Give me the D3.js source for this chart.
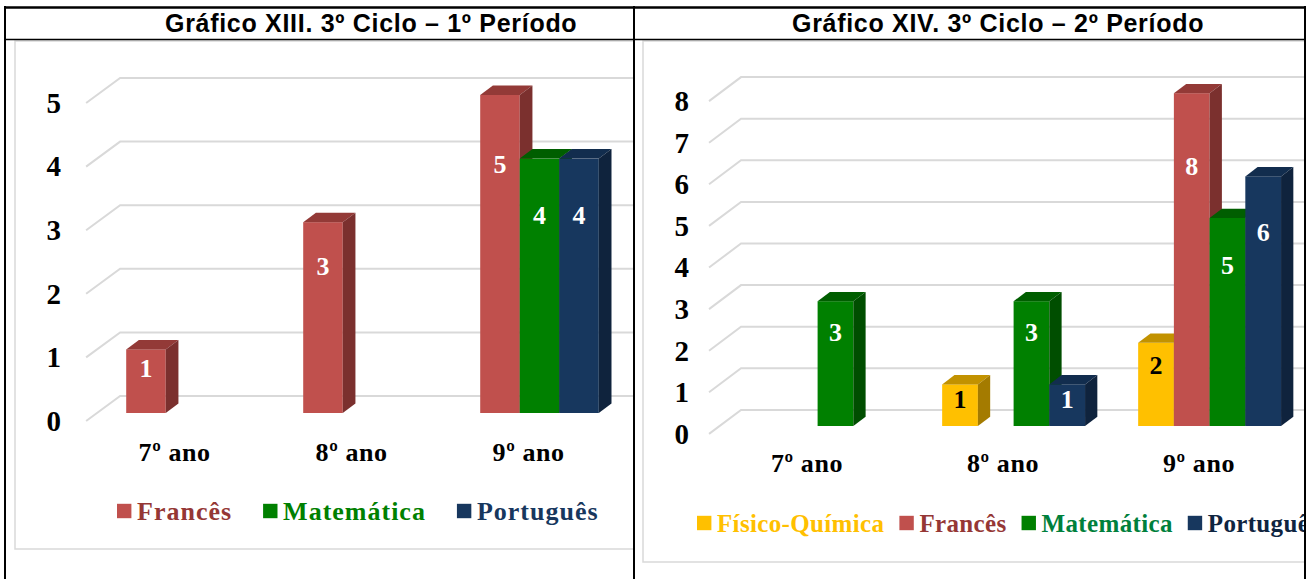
<!DOCTYPE html>
<html>
<head>
<meta charset="utf-8">
<script src="https://cdn.jsdelivr.net/npm/d3@7/dist/d3.min.js"></script>
<style>
  body { margin: 0; background: #fff; }
  svg { display: block; }
</style>
</head>
<body>
<div id="chart"></div>
<script>
// ---- data ----
const categories = ["7º ano", "8º ano", "9º ano"];

const series1 = ["Francês", "Matemática", "Português"];
const frances1 = [1, 3, 5];
const matematica1 = [null, null, 4];
const portugues1 = [null, null, 4];
const ticks1 = [0, 1, 2, 3, 4, 5];
const title1 = "Gráfico XIII. 3º Ciclo – 1º Período";

const series2 = ["Físico-Química", "Francês", "Matemática", "Português"];
const fisicoQuimica2 = [null, 1, 2];
const frances2 = [null, null, 8];
const matematica2 = [3, 3, 5];
const portugues2 = [null, 1, 6];
const ticks2 = [0, 1, 2, 3, 4, 5, 6, 7, 8];
const title2 = "Gráfico XIV. 3º Ciclo – 2º Período";

// ---- styles ----
const COLORS = {
    "Físico-Química": { front: "#ffc000", top: "#c29200", side: "#a47b00", legend: "#ffc000", label: "#000" },
    "Francês": { front: "#c0504d", top: "#933a37", side: "#7b302e", legend: "#953735", label: "#fff" },
    "Matemática": { front: "#008000", top: "#005e00", side: "#004e00", legend: "#008000", label: "#fff" },
    "Português": { front: "#17375e", top: "#122d4e", side: "#0f233d", legend: "#17375e", label: "#fff" },
};
const SERIF = "'Liberation Serif', 'Times New Roman', serif";
const SANS = "'Liberation Sans', Arial, sans-serif";
const GRID = "#d9d9d9";

const width = 1307;
const height = 579;

const svg = d3.select("#chart").append("svg")
    .attr("width", width)
    .attr("height", height)
    .attr("viewBox", `0 0 ${width} ${height}`);

// one chart per table cell
const charts = [
    {
        title: title1, titleX: 165,
        series: series1, values: [frances1, matematica1, portugues1], ticks: ticks1,
        cell: [5, 634], box: { x: 15, bottom: 549 },
        xRange: [97, 628], paddingInner: 0.33,
        y0: 413, yTop: 95,
        wall: { dx: 34, dy: -25 }, frac: 0.32, bar: { dx: 12.7, dy: -9.5 },
        tickX: 61, catY: 452,
        legend: { x: 117, y: 511, gap: 31, size: 26, spacing: 1, colors: {} },
    },
    {
        title: title2, titleX: 792,
        series: series2, values: [fisicoQuimica2, frances2, matematica2, portugues2], ticks: ticks2,
        cell: [634, 1305], box: { x: 643, bottom: 562 },
        xRange: [719.6, 1307.6], paddingInner: 0.271,
        y0: 426, yTop: 93.2,
        wall: { dx: 32, dy: -24 }, frac: 0.33, bar: { dx: 12.3, dy: -9.3 },
        tickX: 689, catY: 463,
        legend: { x: 697, y: 523, gap: 15, size: 25, spacing: 0.35, colors: { "Matemática": "#00803c", "Português": "#0f2541" } },
    },
];

charts.forEach((c, ci) => {
    const clipId = `clip${ci}`;
    svg.append("clipPath").attr("id", clipId)
        .append("rect")
        .attr("x", c.cell[0] + 1).attr("y", 40)
        .attr("width", c.cell[1] - c.cell[0] - 2).attr("height", height - 40);

    const g = svg.append("g").attr("clip-path", `url(#${clipId})`);

    // chart frame
    g.append("rect")
        .attr("x", c.box.x).attr("y", 41)
        .attr("width", 800).attr("height", c.box.bottom - 41)
        .attr("fill", "#fff")
        .attr("stroke", GRID)
        .attr("stroke-width", 1.5);

    const x = d3.scaleBand()
        .domain(categories)
        .range(c.xRange)
        .paddingInner(c.paddingInner)
        .paddingOuter(c.paddingInner / 2);

    const xSeries = d3.scaleBand().domain(c.series).range([0, x.bandwidth()]);

    const y = d3.scaleLinear()
        .domain([0, d3.max(c.ticks)])
        .range([c.y0, c.yTop]);

    // offsets from the bar plane to the front and back of the floor
    const front = { dx: -c.frac * c.wall.dx, dy: -c.frac * c.wall.dy };
    const back = { dx: (1 - c.frac) * c.wall.dx, dy: (1 - c.frac) * c.wall.dy };
    const x0 = c.xRange[0];

    // gridlines: diagonal on the side wall then flat along the back wall
    g.append("g").selectAll("path").data(c.ticks).join("path")
        .attr("d", (t) => {
            const p = d3.path();
            p.moveTo(x0 + front.dx, y(t) + front.dy);
            p.lineTo(x0 + back.dx, y(t) + back.dy);
            p.lineTo(width, y(t) + back.dy);
            return p.toString();
        })
        .attr("fill", "none")
        .attr("stroke", GRID)
        .attr("stroke-width", 2);

    // tick labels
    g.append("g").selectAll("text").data(c.ticks).join("text")
        .attr("x", c.tickX)
        .attr("y", (t) => y(t) + front.dy)
        .attr("dy", "0.34em")
        .attr("text-anchor", "end")
        .attr("font-family", SERIF)
        .attr("font-weight", "bold")
        .attr("font-size", 29)
        .attr("fill", "#000")
        .text((t) => t);

    // bars
    const bars = [];
    categories.forEach((cat, k) => {
        c.series.forEach((s, i) => {
            const v = c.values[i][k];
            if (v == null) return;
            bars.push({ cat, s, v });
        });
    });

    const w = xSeries.bandwidth();
    const bd = c.bar;
    const barG = g.append("g").selectAll("g").data(bars).join("g");

    barG.append("rect")
        .attr("x", (d) => x(d.cat) + xSeries(d.s))
        .attr("y", (d) => y(d.v))
        .attr("width", w)
        .attr("height", (d) => y(0) - y(d.v))
        .attr("fill", (d) => COLORS[d.s].front);

    barG.append("path")
        .attr("d", (d) => {
            const bx = x(d.cat) + xSeries(d.s);
            const yt = y(d.v);
            return `M${bx},${yt}L${bx + bd.dx},${yt + bd.dy}L${bx + w + bd.dx},${yt + bd.dy}L${bx + w},${yt}Z`;
        })
        .attr("fill", (d) => COLORS[d.s].top);

    barG.append("path")
        .attr("d", (d) => {
            const bx = x(d.cat) + xSeries(d.s) + w;
            const yt = y(d.v);
            return `M${bx},${yt}L${bx + bd.dx},${yt + bd.dy}L${bx + bd.dx},${y(0) + bd.dy}L${bx},${y(0)}Z`;
        })
        .attr("fill", (d) => COLORS[d.s].side);

    // value labels
    barG.append("text")
        .attr("x", (d) => x(d.cat) + xSeries(d.s) + w / 2)
        .attr("y", (d) => y(d.v * 0.8) + 6)
        .attr("dy", "0.34em")
        .attr("text-anchor", "middle")
        .attr("font-family", SERIF)
        .attr("font-weight", "bold")
        .attr("font-size", 26)
        .attr("fill", (d) => COLORS[d.s].label)
        .text((d) => d.v);

    // category labels sit at the front edge of the floor
    g.append("g").selectAll("text").data(categories).join("text")
        .attr("x", (d) => x(d) + x.bandwidth() / 2 + front.dx)
        .attr("y", c.catY)
        .attr("dy", "0.34em")
        .attr("text-anchor", "middle")
        .attr("font-family", SERIF)
        .attr("font-weight", "bold")
        .attr("font-size", 26)
        .attr("letter-spacing", 0.6)
        .attr("fill", "#000")
        .text((d) => d);

    // legend
    const L = c.legend;
    const legend = g.append("g");
    let lx = L.x;
    c.series.forEach((s) => {
        legend.append("rect")
            .attr("x", lx).attr("y", L.y - 7.2)
            .attr("width", 14.4).attr("height", 14.4)
            .attr("fill", COLORS[s].front);
        const t = legend.append("text")
            .attr("x", lx + 20)
            .attr("y", L.y)
            .attr("dy", "0.34em")
            .attr("font-family", SERIF)
            .attr("font-weight", "bold")
            .attr("font-size", L.size)
            .attr("letter-spacing", L.spacing)
            .attr("fill", L.colors[s] || COLORS[s].legend)
            .text(s);
        lx += 20 + t.node().getComputedTextLength() + L.gap;
    });

    // header title
    svg.append("text")
        .attr("x", c.titleX)
        .attr("y", 31.5)
        .attr("font-family", SANS)
        .attr("font-weight", "bold")
        .attr("font-size", 25)
        .attr("letter-spacing", 0.7)
        .attr("fill", "#000")
        .text(c.title);
});

// table borders
const table = svg.append("g").attr("stroke", "#000").attr("fill", "none");
table.append("line").attr("x1", 4).attr("x2", 1306).attr("y1", 7.5).attr("y2", 7.5).attr("stroke-width", 2.5);
table.append("line").attr("x1", 4).attr("x2", 1306).attr("y1", 39.5).attr("y2", 39.5).attr("stroke-width", 1.5);
[5, 634, 1305].forEach((bx) => {
    table.append("line").attr("x1", bx).attr("x2", bx).attr("y1", 6).attr("y2", height).attr("stroke-width", 2);
});
</script>
</body>
</html>
